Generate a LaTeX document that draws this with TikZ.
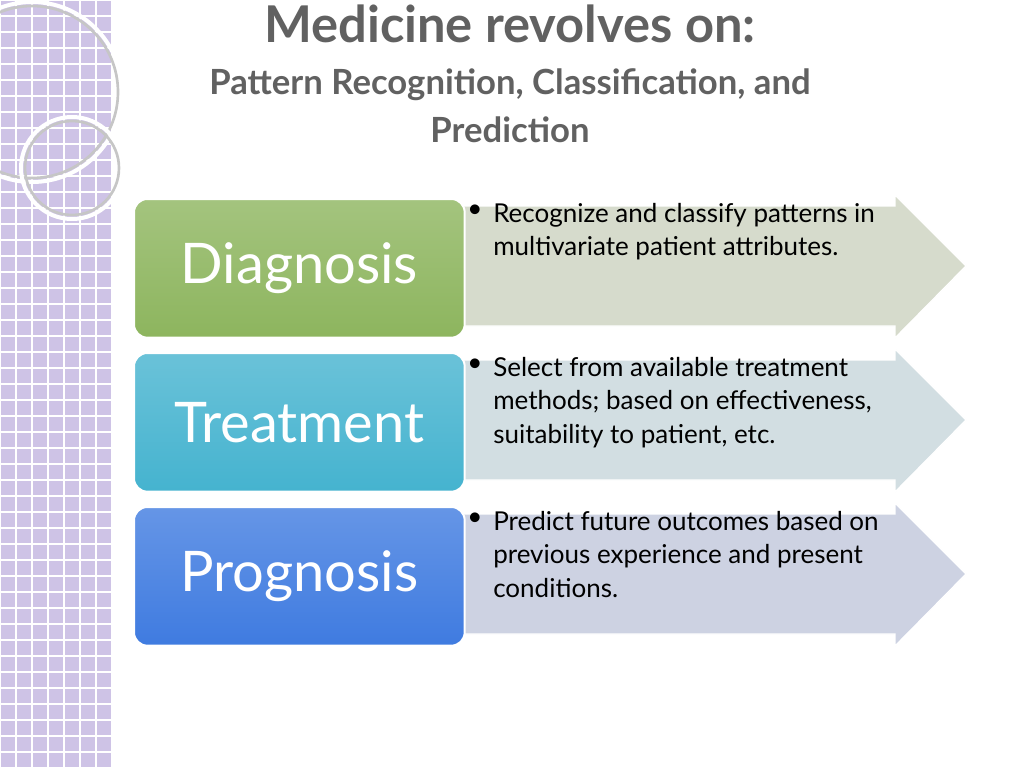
\documentclass[tikz,border=0pt]{standalone}
\usepackage{fontspec}
\setmainfont{Lato}
\begin{document}
\begin{tikzpicture}[x=0.75pt,y=-0.75pt,
  box/.style={rounded corners=10pt,draw=white,line width=1.5pt,text=white,font=\fontsize{42}{44}\selectfont,align=center},
  arr/.style={draw=white,line width=1pt},
  bul/.style={anchor=north west,font=\fontsize{19.5}{25}\selectfont,inner sep=0pt},
  btxt/.style={anchor=north west,align=flush left,font=\fontsize{19.5}{25}\selectfont,text width=330pt,inner sep=0pt}]
\useasboundingbox (0,0) rectangle (1024,768);
\fill[white] (0,0) rectangle (1024,768);
\definecolor{gD}{HTML}{8DB55E}
\definecolor{gT}{HTML}{45B3CF}
\definecolor{gP}{HTML}{3F7BE0}
\definecolor{aD}{HTML}{D6DBCC}
\definecolor{aT}{HTML}{D2DEE2}
\definecolor{aP}{HTML}{CDD2E2}
\definecolor{lav}{HTML}{CEC3E6}
% left strip
\fill[lav] (0,0) rectangle (112,768);
\foreach \i in {0,...,7} \draw[white,line width=1.5pt] (\i*16,0) -- (\i*16,768);
\foreach \j in {0,...,48} \draw[white,line width=1.5pt] (0,\j*16) -- (112,\j*16);
\begin{scope}
\clip (0,0) rectangle (125,768);
\draw[gray!45,line width=2pt] (32,92) circle (86);
\draw[white,line width=3pt] (32,92) circle (90);
\draw[gray!45,line width=2pt] (72,168) circle (47);
\draw[white,line width=3pt] (72,168) circle (51);
\end{scope}
% titles
\node[text=black!62,font=\bfseries\fontsize{38}{40}\selectfont] (t1) at (510,24) {Medicine revolves on:};
\node[text=black!62,font=\bfseries\fontsize{26}{36}\selectfont,align=center] (t2) at (510,106) {Pattern Recognition, Classification, and\\Prediction};
% rows
\foreach \y/\c/\cc/\lab/\txt in {
 198/gD/aD/Diagnosis/{Recognize and classify patterns in multivariate patient attributes.},
 352/gT/aT/Treatment/{Select from available treatment methods; based on effectiveness, suitability to patient, etc.},
 506/gP/aP/Prognosis/{Predict future outcomes based on previous experience and present conditions.}}{
  \fill[\cc,arr] (440,\y+8) -- (895,\y+8) -- (895,\y-3) -- (966,\y+68) -- (895,\y+140) -- (895,\y+128) -- (440,\y+128) -- cycle;
  \node[box,top color=\c!80!white,bottom color=\c,minimum width=248pt,minimum height=104pt,anchor=north west] (b\lab) at (133,\y) {\lab};
  \node[bul] (u\lab) at (467,\y+7) {\textbullet};
  \node[btxt] (x\lab) at (493,\y+5) {\txt};
}
\end{tikzpicture}
\end{document}
